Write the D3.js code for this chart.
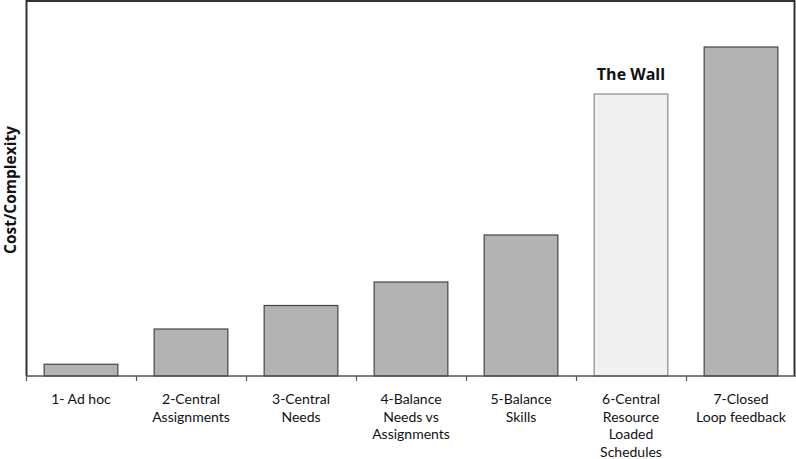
<!DOCTYPE html>
<html>
<head>
<meta charset="utf-8">
<script src="https://cdn.jsdelivr.net/npm/d3@7"></script>
<style>
  body { margin: 0; background: #fff; }
  svg { display: block; font-family: "Open Sans", "DejaVu Sans", sans-serif; }
</style>
</head>
<body>
<div id="chart"></div>
<script>
// chart data
const categories = ["1- Ad hoc", "2-Central Assignments", "3-Central Needs",
  "4-Balance Needs vs Assignments", "5-Balance Skills",
  "6-Central Resource Loaded Schedules", "7-Closed Loop feedback"];
const labelLines = [
  ["1- Ad hoc"],
  ["2-Central", "Assignments"],
  ["3-Central", "Needs"],
  ["4-Balance", "Needs vs", "Assignments"],
  ["5-Balance", "Skills"],
  ["6-Central", "Resource", "Loaded", "Schedules"],
  ["7-Closed", "Loop feedback"]
];
const values = [0.5, 2, 3, 4, 6, 12, 14];
const highlighted = ["6-Central Resource Loaded Schedules"];
const annotation = "The Wall";
const yLabel = "Cost/Complexity";

const width = 796, height = 459;
const margin = { top: 0, right: 0, bottom: 83, left: 26 };
const plotW = width - margin.left - margin.right;
const plotH = height - margin.top - margin.bottom;

const svg = d3.select("#chart").append("svg")
  .attr("width", width).attr("height", height);

const g = svg.append("g").attr("transform", `translate(${margin.left},${margin.top})`);

const x = d3.scaleBand().domain(categories).range([0, plotW]).paddingInner(0.33).paddingOuter(0.165);
const xTicks = d3.scaleBand().domain(categories).range([0, plotW]);
const y = d3.scaleLinear().domain([0, 16]).range([plotH, 0]);

// frame (top, right and left edges)
g.append("path")
  .attr("d", `M0.5,${plotH} V1 H${plotW - 1.5} V${plotH}`)
  .attr("fill", "none").attr("stroke", "#333").attr("stroke-width", 2);

// bars
g.selectAll("rect.bar")
  .data(categories)
  .join("rect")
  .attr("class", "bar")
  .attr("x", d => x(d))
  .attr("width", x.bandwidth())
  .attr("y", (d, i) => y(values[i]))
  .attr("height", (d, i) => plotH - y(values[i]))
  .attr("fill", d => highlighted.includes(d) ? "#f0f0f0" : "#b3b3b3")
  .attr("stroke", d => highlighted.includes(d) ? "#8a8a8a" : "#444")
  .attr("stroke-width", 1.2);

// x axis with ticks between categories
const axis = g.append("g").attr("transform", `translate(0,${plotH})`);
axis.append("line")
  .attr("x1", 0).attr("x2", plotW).attr("stroke", "#555").attr("stroke-width", 1.5);
axis.selectAll("line.tick")
  .data(categories)
  .join("line")
  .attr("class", "tick")
  .attr("x1", d => xTicks(d) + 0.5).attr("x2", d => xTicks(d) + 0.5)
  .attr("y1", 0).attr("y2", 5)
  .attr("stroke", "#555").attr("stroke-width", 1.2);

// category labels
const labels = g.selectAll("text.cat")
  .data(categories)
  .join("text")
  .attr("class", "cat")
  .attr("text-anchor", "middle")
  .attr("font-family", "Lato, 'Open Sans', sans-serif")
  .attr("font-size", 14)
  .attr("fill", "#111")
  .attr("transform", d => `translate(${x(d) + x.bandwidth() / 2},${plotH + 28})`);
labels.selectAll("tspan")
  .data((d, i) => labelLines[i])
  .join("tspan")
  .attr("x", 0)
  .attr("y", (d, i) => i * 17.5)
  .text(d => d);

// annotation above highlighted bar
const hi = highlighted[0];
g.append("text")
  .attr("x", x(hi) + x.bandwidth() / 2)
  .attr("y", y(values[categories.indexOf(hi)]) - 14)
  .attr("text-anchor", "middle")
  .attr("font-size", 16).attr("font-weight", "bold").attr("fill", "#111")
  .text(annotation);

// y axis title
svg.append("text")
  .attr("transform", `translate(16,${plotH / 2 + 2}) rotate(-90)`)
  .attr("text-anchor", "middle")
  .attr("font-size", 15.5).attr("font-weight", "bold").attr("fill", "#111")
  .text(yLabel);
</script>
</body>
</html>
